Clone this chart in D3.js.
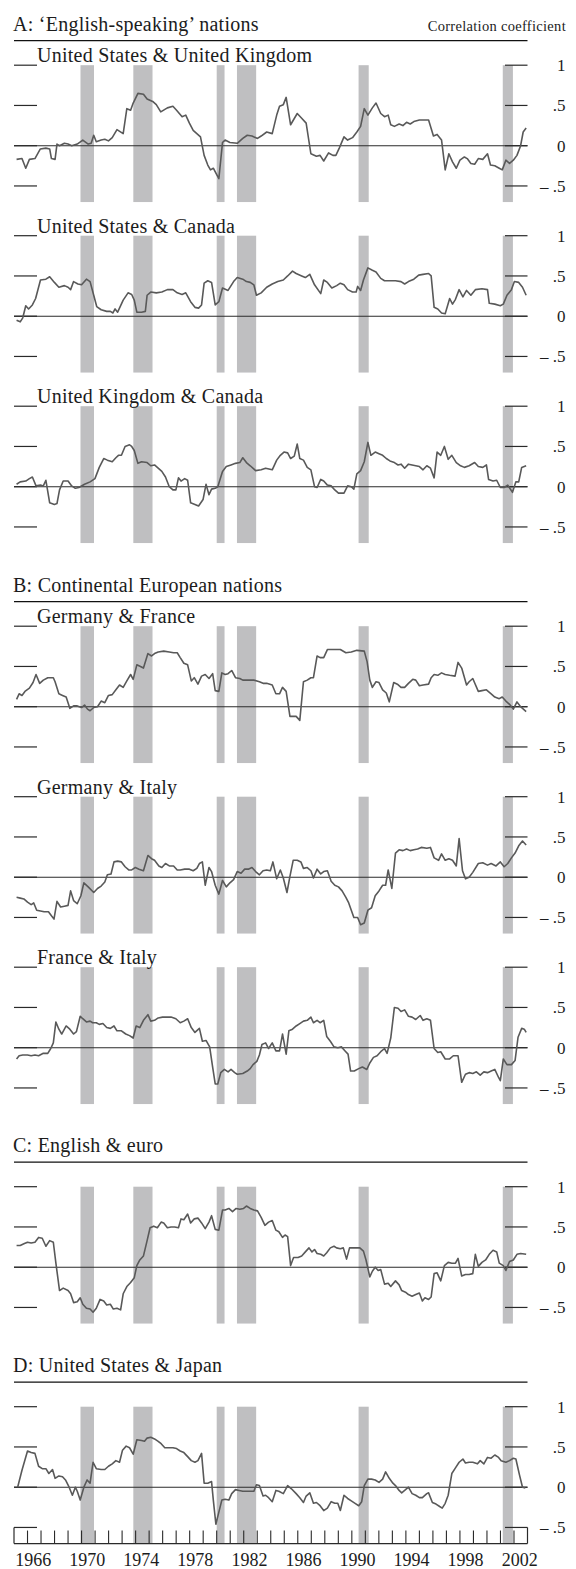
<!DOCTYPE html>
<html><head><meta charset="utf-8">
<script src="https://cdn.jsdelivr.net/npm/d3@7"></script>
<style>
body{margin:0;background:#fff}
svg{display:block}
text{font-family:"Liberation Serif","Times New Roman",serif;fill:#1c1c1c}
</style>
</head><body>
<svg id="chart" width="576" height="1569"></svg>
<script>
// ---------- DATA ----------
const recessions = [[1969.92,1970.92],[1973.83,1975.25],[1980.0,1980.58],[1981.5,1982.92],[1990.5,1991.25],[2001.17,2001.92]];
const yTickValues = [1, 0.5, 0, -0.5];
const yTickLabels = ["1", ".5", "0", "\u2013 .5"];
const yearTicks = [1966,1967,1968,1969,1970,1971,1972,1973,1974,1975,1976,1977,1978,1979,1980,1981,1982,1983,1984,1985,1986,1987,1988,1989,1990,1991,1992,1993,1994,1995,1996,1997,1998,1999,2000,2001,2002];
const yearLabels = [1966,1970,1974,1978,1982,1986,1990,1994,1998,2002];
const groupTitles = ["A: \u2018English-speaking\u2019 nations","B: Continental European nations","C: English & euro","D: United States & Japan"];
const seriesNames = ["United States & United Kingdom","United States & Canada","United Kingdom & Canada","Germany & France","Germany & Italy","France & Italy","",""];
const unitLabel = "Correlation coefficient";

const usUk = [[1965.19,-0.17],[1965.59,-0.16],[1965.87,-0.28],[1966.14,-0.17],[1966.55,-0.16],[1966.95,-0.04],[1967.36,-0.03],[1967.64,-0.04],[1967.77,-0.16],[1968.04,-0.17],[1968.18,0.02],[1968.37,0],[1968.73,0.03],[1969.0,0.02],[1969.27,0],[1969.68,0.02],[1970.09,0.07],[1970.49,0.02],[1970.71,0.03],[1970.9,0.13],[1971.09,0.05],[1971.45,0.07],[1971.72,0.08],[1971.99,0.06],[1972.27,0.1],[1972.62,0.2],[1973.08,0.15],[1973.35,0.46],[1973.63,0.44],[1973.82,0.53],[1974.17,0.65],[1974.58,0.64],[1974.85,0.58],[1975.26,0.55],[1975.53,0.51],[1975.86,0.42],[1976.35,0.47],[1976.76,0.49],[1977.03,0.44],[1977.44,0.36],[1977.71,0.38],[1977.98,0.28],[1978.26,0.19],[1978.8,0.11],[1979.07,-0.12],[1979.34,-0.24],[1979.54,-0.3],[1979.75,-0.28],[1980.03,-0.37],[1980.16,-0.41],[1980.43,0.04],[1980.62,0.07],[1980.98,0.04],[1981.52,0.03],[1981.93,0.09],[1982.26,0.13],[1982.61,0.12],[1983.02,0.09],[1983.29,0.12],[1983.7,0.17],[1984.11,0.15],[1984.44,0.38],[1984.65,0.49],[1984.93,0.51],[1985.14,0.6],[1985.47,0.26],[1985.96,0.4],[1986.29,0.34],[1986.62,0.28],[1986.97,-0.1],[1987.38,-0.13],[1987.65,-0.12],[1987.92,-0.19],[1988.28,-0.09],[1988.6,-0.12],[1988.82,-0.12],[1989.07,-0.03],[1989.42,0.11],[1989.69,0.07],[1990.05,0.1],[1990.37,0.17],[1990.65,0.24],[1990.92,0.46],[1991.19,0.38],[1991.52,0.47],[1991.79,0.53],[1992.14,0.4],[1992.42,0.36],[1992.69,0.38],[1992.88,0.26],[1993.15,0.24],[1993.5,0.27],[1993.78,0.25],[1994.05,0.29],[1994.32,0.27],[1994.59,0.3],[1995.0,0.32],[1995.68,0.32],[1996.04,0.12],[1996.31,0.14],[1996.64,0.07],[1996.91,-0.3],[1997.18,-0.1],[1997.45,-0.2],[1997.73,-0.28],[1998.0,-0.18],[1998.33,-0.14],[1998.54,-0.16],[1998.81,-0.22],[1999.09,-0.23],[1999.36,-0.16],[1999.69,-0.17],[2000.04,-0.1],[2000.26,-0.24],[2000.58,-0.25],[2000.91,-0.28],[2001.13,-0.3],[2001.4,-0.18],[2001.67,-0.22],[2001.95,-0.18],[2002.22,-0.12],[2002.49,0],[2002.68,0.17],[2002.9,0.22]];

const usCanada = [[1965.19,-0.05],[1965.46,-0.07],[1965.65,-0.02],[1965.87,0.13],[1966.08,0.09],[1966.36,0.14],[1966.6,0.22],[1966.96,0.45],[1967.36,0.46],[1967.64,0.49],[1967.99,0.42],[1968.32,0.36],[1968.73,0.38],[1969.0,0.36],[1969.19,0.33],[1969.41,0.43],[1969.73,0.4],[1970.0,0.39],[1970.36,0.46],[1970.63,0.43],[1970.9,0.26],[1971.12,0.12],[1971.45,0.08],[1971.86,0.06],[1972.13,0.06],[1972.32,0.04],[1972.48,0.09],[1972.67,0.05],[1973.08,0.2],[1973.44,0.29],[1973.71,0.27],[1973.9,0.2],[1974.09,0.05],[1974.44,0.05],[1974.72,0.06],[1974.85,0.26],[1975.12,0.3],[1975.53,0.29],[1975.94,0.3],[1976.35,0.33],[1976.76,0.33],[1977.08,0.29],[1977.44,0.27],[1977.71,0.29],[1978.07,0.18],[1978.39,0.11],[1978.66,0.1],[1978.88,0.14],[1979.07,0.41],[1979.34,0.44],[1979.62,0.42],[1979.89,0.14],[1980.16,0.18],[1980.43,0.35],[1980.84,0.32],[1981.25,0.43],[1981.52,0.48],[1981.93,0.46],[1982.2,0.43],[1982.48,0.42],[1982.75,0.39],[1982.94,0.26],[1983.29,0.29],[1983.7,0.36],[1984.11,0.4],[1984.52,0.43],[1984.93,0.45],[1985.25,0.5],[1985.61,0.56],[1985.88,0.53],[1986.29,0.5],[1986.56,0.48],[1986.89,0.52],[1987.24,0.39],[1987.7,0.28],[1987.92,0.45],[1988.19,0.42],[1988.52,0.35],[1988.88,0.38],[1989.15,0.41],[1989.42,0.39],[1989.69,0.33],[1990.05,0.3],[1990.32,0.3],[1990.43,0.37],[1990.65,0.32],[1990.86,0.45],[1991.19,0.6],[1991.52,0.57],[1991.79,0.55],[1992.14,0.47],[1992.42,0.44],[1992.82,0.44],[1993.23,0.44],[1993.64,0.43],[1993.91,0.4],[1994.19,0.43],[1994.59,0.46],[1994.95,0.51],[1995.27,0.52],[1995.68,0.53],[1995.87,0.5],[1996.09,0.11],[1996.36,0.09],[1996.64,0.04],[1996.91,0.03],[1997.24,0.22],[1997.45,0.15],[1997.67,0.21],[1997.94,0.33],[1998.22,0.24],[1998.49,0.32],[1998.81,0.26],[1999.14,0.33],[1999.63,0.34],[2000.04,0.33],[2000.17,0.16],[2000.58,0.15],[2000.99,0.13],[2001.21,0.15],[2001.48,0.26],[2001.81,0.33],[2002.03,0.43],[2002.35,0.42],[2002.63,0.36],[2002.9,0.26]];

const ukCanada = [[1965.19,0.03],[1965.46,0.06],[1965.87,0.07],[1966.14,0.1],[1966.36,0.12],[1966.63,0.01],[1966.96,0.02],[1967.17,0.01],[1967.36,0.08],[1967.64,-0.2],[1967.99,-0.22],[1968.18,-0.21],[1968.37,-0.04],[1968.64,0.07],[1969.0,0.07],[1969.27,0.01],[1969.54,-0.02],[1969.81,-0.01],[1970.22,0.03],[1970.63,0.06],[1970.99,0.1],[1971.31,0.24],[1971.64,0.35],[1971.91,0.33],[1972.27,0.31],[1972.54,0.36],[1972.73,0.39],[1972.95,0.39],[1973.22,0.5],[1973.55,0.52],[1973.71,0.5],[1973.9,0.45],[1974.17,0.29],[1974.44,0.31],[1974.85,0.3],[1975.12,0.26],[1975.4,0.27],[1975.67,0.23],[1975.94,0.19],[1976.21,0.12],[1976.49,0],[1976.76,-0.04],[1976.98,-0.04],[1977.17,0.11],[1977.36,0.07],[1977.63,0.1],[1977.85,0.08],[1978.07,-0.2],[1978.39,-0.22],[1978.66,-0.24],[1978.99,-0.16],[1979.21,0.03],[1979.43,-0.1],[1979.62,-0.03],[1979.89,-0.02],[1980.08,0],[1980.43,0.19],[1980.71,0.25],[1981.06,0.27],[1981.39,0.29],[1981.71,0.3],[1981.93,0.36],[1982.2,0.3],[1982.48,0.26],[1982.88,0.2],[1983.29,0.21],[1983.62,0.23],[1984.11,0.21],[1984.44,0.33],[1984.71,0.39],[1984.98,0.43],[1985.25,0.42],[1985.47,0.35],[1985.74,0.38],[1985.96,0.53],[1986.15,0.35],[1986.42,0.33],[1986.7,0.24],[1986.97,0.21],[1987.24,0],[1987.43,-0.01],[1987.7,0.09],[1987.92,0.07],[1988.19,0.02],[1988.47,0.01],[1988.74,-0.04],[1989.01,-0.08],[1989.42,-0.08],[1989.69,0.01],[1989.96,0],[1990.15,-0.03],[1990.37,0.16],[1990.65,0.2],[1990.92,0.31],[1991.19,0.55],[1991.41,0.39],[1991.73,0.43],[1992.01,0.41],[1992.28,0.39],[1992.55,0.35],[1992.82,0.32],[1993.15,0.3],[1993.42,0.27],[1993.64,0.28],[1993.91,0.23],[1994.19,0.28],[1994.46,0.27],[1994.73,0.26],[1995.0,0.25],[1995.27,0.21],[1995.55,0.26],[1995.82,0.23],[1996.09,0.11],[1996.31,0.43],[1996.58,0.39],[1996.85,0.5],[1997.13,0.34],[1997.4,0.39],[1997.73,0.3],[1998.05,0.26],[1998.33,0.24],[1998.68,0.26],[1999.09,0.3],[1999.36,0.25],[1999.69,0.24],[1999.96,0.27],[2000.12,0.09],[2000.45,0.07],[2000.72,0.08],[2000.99,-0.01],[2001.27,-0.01],[2001.54,0.02],[2001.89,-0.07],[2002.14,0.06],[2002.35,0.06],[2002.57,0.24],[2002.9,0.26]];

const germanyFrance = [[1965.19,0.09],[1965.38,0.16],[1965.59,0.14],[1965.81,0.19],[1966.14,0.23],[1966.41,0.3],[1966.63,0.4],[1966.9,0.29],[1967.17,0.33],[1967.5,0.36],[1967.91,0.36],[1968.04,0.31],[1968.32,0.16],[1968.59,0.14],[1968.86,0.12],[1969.13,-0.02],[1969.41,0.01],[1969.68,0.01],[1970.0,-0.01],[1970.22,0.02],[1970.44,-0.03],[1970.63,-0.05],[1970.9,-0.01],[1971.18,0],[1971.45,0.07],[1971.72,0.05],[1971.99,0.14],[1972.27,0.15],[1972.54,0.21],[1972.81,0.27],[1973.08,0.24],[1973.35,0.32],[1973.63,0.4],[1973.82,0.34],[1974.09,0.52],[1974.36,0.5],[1974.58,0.48],[1974.91,0.66],[1975.18,0.63],[1975.4,0.66],[1975.67,0.68],[1976.08,0.69],[1976.49,0.68],[1976.81,0.67],[1977.08,0.67],[1977.3,0.61],[1977.57,0.54],[1977.85,0.52],[1978.12,0.32],[1978.34,0.36],[1978.61,0.28],[1978.88,0.38],[1979.15,0.4],[1979.43,0.35],[1979.7,0.41],[1979.89,0.2],[1980.16,0.19],[1980.38,0.42],[1980.62,0.4],[1980.84,0.41],[1981.11,0.45],[1981.39,0.36],[1981.71,0.35],[1981.93,0.33],[1982.26,0.33],[1982.75,0.33],[1983.16,0.31],[1983.43,0.29],[1983.7,0.29],[1984.11,0.27],[1984.38,0.16],[1984.65,0.16],[1984.87,0.24],[1985.14,0.19],[1985.42,-0.12],[1985.69,-0.12],[1985.88,-0.12],[1986.15,-0.17],[1986.42,0.31],[1986.7,0.33],[1986.97,0.36],[1987.16,0.36],[1987.43,0.63],[1987.65,0.61],[1987.92,0.61],[1988.19,0.71],[1988.47,0.71],[1988.74,0.71],[1989.15,0.71],[1989.56,0.67],[1989.96,0.68],[1990.37,0.7],[1990.92,0.69],[1991.13,0.56],[1991.33,0.33],[1991.52,0.24],[1991.79,0.31],[1992.01,0.3],[1992.28,0.21],[1992.55,0.17],[1992.77,0.06],[1993.1,0.3],[1993.37,0.28],[1993.64,0.24],[1993.91,0.24],[1994.19,0.29],[1994.51,0.34],[1994.73,0.33],[1995.0,0.26],[1995.27,0.27],[1995.68,0.28],[1995.87,0.36],[1996.09,0.4],[1996.36,0.39],[1996.64,0.42],[1996.91,0.4],[1997.24,0.39],[1997.64,0.38],[1997.86,0.55],[1998.13,0.48],[1998.49,0.27],[1998.68,0.31],[1998.95,0.35],[1999.36,0.19],[1999.63,0.2],[1999.96,0.21],[2000.31,0.16],[2000.58,0.12],[2000.91,0.1],[2001.13,0.12],[2001.4,0.07],[2001.67,0.03],[2001.95,-0.03],[2002.22,0.06],[2002.49,0],[2002.9,-0.06]];

const germanyItaly = [[1965.19,-0.25],[1965.46,-0.26],[1965.73,-0.27],[1966.0,-0.31],[1966.27,-0.34],[1966.46,-0.32],[1966.68,-0.41],[1966.96,-0.42],[1967.23,-0.43],[1967.55,-0.43],[1967.77,-0.48],[1967.96,-0.52],[1968.18,-0.3],[1968.45,-0.37],[1968.73,-0.36],[1969.0,-0.35],[1969.19,-0.17],[1969.41,-0.29],[1969.68,-0.33],[1969.95,-0.23],[1970.17,-0.07],[1970.49,-0.12],[1970.9,-0.19],[1971.18,-0.14],[1971.45,-0.11],[1971.72,-0.06],[1971.91,0.03],[1972.18,0.04],[1972.4,0.19],[1972.67,0.2],[1972.95,0.19],[1973.22,0.13],[1973.49,0.09],[1973.71,0.09],[1973.98,0.12],[1974.25,0.1],[1974.58,0.08],[1974.91,0.27],[1975.18,0.23],[1975.4,0.21],[1975.72,0.14],[1975.94,0.12],[1976.21,0.17],[1976.49,0.14],[1976.81,0.14],[1977.08,0.09],[1977.3,0.09],[1977.63,0.1],[1977.98,0.1],[1978.26,0.08],[1978.53,0.11],[1978.72,0.17],[1978.94,0.19],[1979.15,-0.1],[1979.43,0.12],[1979.62,0.07],[1979.89,-0.1],[1980.16,-0.21],[1980.43,-0.04],[1980.71,-0.12],[1980.98,-0.07],[1981.25,-0.03],[1981.52,0.07],[1981.8,0.05],[1982.07,0.1],[1982.34,0.1],[1982.61,0.12],[1982.88,0.07],[1983.16,0.03],[1983.43,0.08],[1983.7,0.09],[1983.97,0.08],[1984.16,0.19],[1984.44,-0.02],[1984.71,0.09],[1984.93,-0.01],[1985.2,-0.19],[1985.42,0.01],[1985.66,0.21],[1985.96,0.21],[1986.23,0.19],[1986.42,0.11],[1986.7,0.12],[1986.97,0.08],[1987.16,-0.01],[1987.43,0.1],[1987.7,0.04],[1987.92,0.07],[1988.19,0.08],[1988.47,-0.05],[1988.74,-0.1],[1989.01,-0.12],[1989.28,-0.17],[1989.56,-0.25],[1989.77,-0.32],[1989.96,-0.41],[1990.15,-0.5],[1990.43,-0.5],[1990.65,-0.59],[1990.92,-0.57],[1991.19,-0.41],[1991.46,-0.38],[1991.73,-0.23],[1992.01,-0.17],[1992.28,-0.1],[1992.5,-0.1],[1992.69,0.09],[1992.96,-0.14],[1993.23,0.3],[1993.5,0.34],[1993.78,0.33],[1994.05,0.35],[1994.32,0.33],[1994.59,0.34],[1994.87,0.35],[1995.14,0.37],[1995.55,0.36],[1995.82,0.37],[1996.09,0.24],[1996.42,0.21],[1996.64,0.29],[1996.91,0.21],[1997.18,0.23],[1997.45,0.21],[1997.73,0.14],[1997.94,0.48],[1998.19,0.08],[1998.41,-0.02],[1998.68,0],[1998.95,0.06],[1999.36,0.17],[1999.69,0.18],[2000.04,0.15],[2000.31,0.17],[2000.67,0.14],[2000.99,0.19],[2001.27,0.13],[2001.54,0.17],[2001.81,0.24],[2002.08,0.3],[2002.35,0.39],[2002.63,0.45],[2002.9,0.4]];

const franceItaly = [[1965.19,-0.14],[1965.38,-0.1],[1965.65,-0.09],[1966.0,-0.09],[1966.27,-0.1],[1966.55,-0.09],[1966.82,-0.1],[1967.17,-0.07],[1967.5,-0.07],[1967.72,-0.01],[1967.91,0.06],[1968.1,0.32],[1968.32,0.23],[1968.53,0.17],[1968.86,0.27],[1969.13,0.23],[1969.41,0.17],[1969.62,0.2],[1969.9,0.39],[1970.09,0.36],[1970.36,0.32],[1970.63,0.33],[1970.82,0.31],[1971.09,0.31],[1971.31,0.29],[1971.58,0.3],[1971.86,0.25],[1972.13,0.24],[1972.4,0.27],[1972.62,0.21],[1972.95,0.21],[1973.27,0.17],[1973.55,0.15],[1973.82,0.12],[1974.04,0.27],[1974.31,0.25],[1974.58,0.34],[1974.91,0.41],[1975.12,0.33],[1975.4,0.34],[1975.67,0.37],[1975.99,0.38],[1976.35,0.38],[1976.62,0.38],[1976.98,0.36],[1977.3,0.31],[1977.57,0.33],[1977.85,0.36],[1978.12,0.25],[1978.39,0.19],[1978.72,0.24],[1978.94,0.08],[1979.21,0.09],[1979.48,0.01],[1979.7,-0.24],[1979.89,-0.45],[1980.08,-0.45],[1980.3,-0.31],[1980.57,-0.27],[1980.84,-0.3],[1981.06,-0.27],[1981.33,-0.31],[1981.52,-0.33],[1981.93,-0.32],[1982.26,-0.29],[1982.48,-0.26],[1982.69,-0.21],[1982.97,-0.17],[1983.16,-0.09],[1983.35,0.04],[1983.62,0.06],[1983.84,-0.01],[1984.11,0.06],[1984.38,-0.04],[1984.65,-0.04],[1984.87,0.17],[1985.14,-0.08],[1985.34,0.21],[1985.61,0.23],[1985.88,0.27],[1986.15,0.3],[1986.42,0.33],[1986.7,0.34],[1986.97,0.38],[1987.16,0.31],[1987.43,0.34],[1987.65,0.31],[1987.92,0.34],[1988.14,0.14],[1988.41,0.08],[1988.68,0.01],[1988.96,0],[1989.23,0.01],[1989.5,-0.04],[1989.72,-0.08],[1989.91,-0.29],[1990.18,-0.29],[1990.51,-0.26],[1990.78,-0.24],[1991.11,-0.27],[1991.33,-0.19],[1991.6,-0.12],[1991.87,-0.1],[1992.14,-0.05],[1992.42,-0.01],[1992.61,-0.07],[1992.88,0.12],[1993.15,0.5],[1993.42,0.49],[1993.64,0.45],[1993.91,0.47],[1994.19,0.39],[1994.46,0.38],[1994.73,0.35],[1995.06,0.4],[1995.27,0.34],[1995.55,0.36],[1995.82,0.34],[1996.09,-0.01],[1996.36,-0.06],[1996.58,-0.05],[1996.91,-0.14],[1997.24,-0.14],[1997.51,-0.1],[1997.86,-0.1],[1998.13,-0.43],[1998.41,-0.33],[1998.68,-0.31],[1998.95,-0.32],[1999.22,-0.3],[1999.5,-0.34],[1999.77,-0.3],[2000.04,-0.31],[2000.31,-0.29],[2000.58,-0.27],[2000.86,-0.37],[2000.99,-0.41],[2001.21,-0.14],[2001.48,-0.21],[2001.81,-0.21],[2002.08,-0.16],[2002.3,0.13],[2002.57,0.24],[2002.76,0.23],[2002.9,0.19]];

const englishEuro = [[1965.19,0.27],[1965.46,0.27],[1965.73,0.29],[1966.0,0.31],[1966.27,0.3],[1966.55,0.31],[1966.82,0.37],[1967.09,0.36],[1967.36,0.26],[1967.64,0.33],[1967.91,0.31],[1968.1,0.05],[1968.37,-0.29],[1968.64,-0.26],[1969.0,-0.29],[1969.19,-0.33],[1969.41,-0.44],[1969.68,-0.43],[1969.9,-0.38],[1970.09,-0.46],[1970.36,-0.51],[1970.63,-0.52],[1970.85,-0.56],[1971.09,-0.51],[1971.37,-0.4],[1971.64,-0.42],[1971.86,-0.47],[1972.13,-0.46],[1972.35,-0.52],[1972.62,-0.51],[1972.89,-0.53],[1973.08,-0.33],[1973.35,-0.24],[1973.63,-0.19],[1973.9,-0.13],[1974.09,0.02],[1974.31,0.09],[1974.58,0.14],[1974.85,0.33],[1975.07,0.49],[1975.34,0.51],[1975.61,0.49],[1975.89,0.56],[1976.08,0.55],[1976.35,0.49],[1976.62,0.5],[1976.89,0.5],[1977.17,0.49],[1977.36,0.6],[1977.57,0.59],[1977.85,0.66],[1978.07,0.55],[1978.34,0.6],[1978.61,0.61],[1978.88,0.55],[1979.15,0.48],[1979.43,0.56],[1979.62,0.64],[1979.89,0.47],[1980.16,0.46],[1980.43,0.71],[1980.62,0.71],[1980.9,0.73],[1981.17,0.69],[1981.44,0.73],[1981.71,0.72],[1981.99,0.73],[1982.2,0.76],[1982.48,0.73],[1982.75,0.71],[1983.02,0.7],[1983.29,0.62],[1983.57,0.52],[1983.84,0.56],[1984.11,0.58],[1984.38,0.46],[1984.6,0.44],[1984.87,0.37],[1985.06,0.4],[1985.25,0.38],[1985.47,0.02],[1985.69,0.12],[1986.02,0.12],[1986.29,0.14],[1986.56,0.19],[1986.83,0.24],[1987.05,0.19],[1987.24,0.22],[1987.43,0.17],[1987.7,0.16],[1987.92,0.14],[1988.14,0.18],[1988.41,0.24],[1988.68,0.26],[1988.87,0.24],[1989.15,0.23],[1989.37,0.24],[1989.61,0.1],[1989.83,0.24],[1990.05,0.24],[1990.32,0.24],[1990.59,0.24],[1990.86,0.2],[1991.05,0.09],[1991.33,-0.12],[1991.52,-0.05],[1991.73,0],[1991.95,-0.04],[1992.14,-0.03],[1992.42,-0.21],[1992.69,-0.2],[1992.88,-0.24],[1993.23,-0.17],[1993.5,-0.22],[1993.69,-0.29],[1993.97,-0.31],[1994.19,-0.34],[1994.46,-0.36],[1994.73,-0.34],[1995.0,-0.32],[1995.22,-0.42],[1995.41,-0.38],[1995.68,-0.4],[1995.87,-0.37],[1996.09,-0.08],[1996.31,-0.07],[1996.58,-0.17],[1996.85,0.02],[1997.13,0.06],[1997.4,0.05],[1997.67,0.05],[1997.86,0.11],[1998.13,-0.11],[1998.41,-0.09],[1998.68,-0.09],[1998.95,-0.08],[1999.14,0.16],[1999.36,0.01],[1999.63,0.06],[1999.9,0.09],[2000.17,0.16],[2000.45,0.21],[2000.72,0.19],[2000.91,0.05],[2001.21,0.02],[2001.4,-0.04],[2001.67,0.07],[2001.95,0.09],[2002.22,0.16],[2002.49,0.17],[2002.9,0.16]];

const usJapan = [[1965.27,0],[1965.59,0.21],[1966.0,0.45],[1966.27,0.43],[1966.55,0.42],[1966.82,0.26],[1967.09,0.23],[1967.36,0.23],[1967.58,0.17],[1967.85,0.22],[1968.04,0.11],[1968.32,0.14],[1968.59,0.13],[1968.81,0.09],[1969.08,0],[1969.32,-0.1],[1969.54,0],[1969.68,-0.05],[1969.9,-0.16],[1970.17,0],[1970.41,0.09],[1970.63,0.05],[1970.85,0.31],[1971.09,0.23],[1971.45,0.22],[1971.72,0.22],[1971.99,0.26],[1972.27,0.29],[1972.54,0.33],[1972.81,0.31],[1973.03,0.46],[1973.3,0.51],[1973.55,0.49],[1973.82,0.41],[1974.09,0.59],[1974.44,0.58],[1974.66,0.57],[1974.85,0.61],[1975.12,0.62],[1975.4,0.6],[1975.67,0.57],[1975.89,0.54],[1976.16,0.49],[1976.49,0.49],[1976.76,0.49],[1977.03,0.48],[1977.3,0.45],[1977.57,0.43],[1977.85,0.38],[1978.12,0.33],[1978.39,0.31],[1978.61,0.33],[1978.88,0.42],[1979.07,0.05],[1979.34,0.05],[1979.62,0.07],[1979.75,-0.16],[1979.94,-0.46],[1980.16,-0.31],[1980.38,-0.16],[1980.62,-0.15],[1980.9,-0.16],[1981.11,-0.08],[1981.39,-0.03],[1981.66,-0.04],[1981.93,-0.05],[1982.48,-0.05],[1982.75,-0.05],[1982.94,0.03],[1983.16,0.02],[1983.43,-0.11],[1983.62,-0.1],[1983.84,-0.13],[1984.11,-0.18],[1984.38,-0.04],[1984.6,-0.05],[1984.93,-0.08],[1985.25,0.02],[1985.53,-0.02],[1985.88,-0.08],[1986.15,-0.13],[1986.42,-0.19],[1986.62,-0.11],[1986.89,-0.07],[1987.16,-0.2],[1987.38,-0.19],[1987.65,-0.23],[1987.92,-0.29],[1988.19,-0.26],[1988.47,-0.18],[1988.74,-0.2],[1988.96,-0.2],[1989.15,-0.29],[1989.42,-0.1],[1989.69,-0.14],[1989.96,-0.17],[1990.24,-0.2],[1990.51,-0.23],[1990.73,-0.18],[1990.92,0.02],[1991.19,0.1],[1991.46,0.1],[1991.73,0.09],[1992.01,0.06],[1992.28,0.1],[1992.5,0.19],[1992.77,0.11],[1993.04,0.05],[1993.23,0.02],[1993.5,-0.04],[1993.69,-0.07],[1993.91,-0.04],[1994.19,0],[1994.46,-0.08],[1994.73,-0.1],[1995.0,-0.13],[1995.22,-0.13],[1995.55,-0.08],[1995.68,-0.07],[1995.96,-0.19],[1996.23,-0.21],[1996.5,-0.24],[1996.69,-0.26],[1996.91,-0.2],[1997.13,-0.1],[1997.4,0.17],[1997.67,0.24],[1997.94,0.31],[1998.22,0.35],[1998.41,0.3],[1998.68,0.31],[1998.95,0.31],[1999.3,0.29],[1999.5,0.33],[1999.77,0.29],[2000.04,0.37],[2000.31,0.36],[2000.58,0.4],[2000.86,0.37],[2001.05,0.33],[2001.4,0.31],[2001.67,0.33],[2001.95,0.36],[2002.14,0.35],[2002.41,0.15],[2002.63,0],[2002.84,-0.01]];

const allSeries = [usUk, usCanada, ukCanada, germanyFrance, germanyItaly, franceItaly, englishEuro, usJapan];

// ---------- LAYOUT ----------
const svg = d3.select("#chart");
const X0 = 14, X1 = 527.5;
const x = d3.scaleLinear().domain([1965, 2003]).range([X0, X1]);
const UNIT = 80.5;           // pixels per 1.0 of correlation
const zeroYs = [145.7, 316.2, 486.7, 706.7, 877.2, 1047.7, 1267.2, 1487.2];
const groupOf = [0,0,0,1,1,1,2,3];
const firstInGroup = [true,false,false,true,false,false,true,true];
const FONT = "Liberation Serif, Times New Roman, serif";
const lineColor = "#595959", barColor = "#bfbfc1", tickColor = "#2a2a2a";

allSeries.forEach((data, i) => {
  const z = zeroYs[i];
  const y = d3.scaleLinear().domain([-0.7, 1]).range([z + 0.7 * UNIT, z - UNIT]);
  const g = svg.append("g");

  if (firstInGroup[i]) {
    const ruleY = y(1) - 24.5;
    g.append("line").attr("x1", X0).attr("x2", X1).attr("y1", ruleY).attr("y2", ruleY)
      .attr("stroke", "#111").attr("stroke-width", 1.3);
    g.append("text").attr("x", X0 - 1).attr("y", ruleY - 10)
      .attr("font-size", 20).attr("letter-spacing", 0.25).text(groupTitles[groupOf[i]]);
    if (i === 0) {
      g.append("text").attr("x", 566).attr("y", ruleY - 10).attr("text-anchor", "end")
        .attr("font-size", 14.5).attr("letter-spacing", 0.3).text(unitLabel);
    }
  }

  // recession bars
  g.selectAll("rect.rec").data(recessions).join("rect").attr("class", "rec")
    .attr("x", d => x(d[0])).attr("width", d => x(d[1]) - x(d[0]))
    .attr("y", y(1)).attr("height", y(-0.7) - y(1))
    .attr("fill", barColor);

  // zero line
  g.append("line").attr("x1", X0).attr("x2", X1).attr("y1", y(0)).attr("y2", y(0))
    .attr("stroke", "#2b2b2b").attr("stroke-width", 1.1);

  // ticks both sides
  yTickValues.forEach(v => {
    g.append("line").attr("x1", X0).attr("x2", X0 + 23).attr("y1", y(v)).attr("y2", y(v))
      .attr("stroke", tickColor).attr("stroke-width", 1.2);
    g.append("line").attr("x1", X1 - 22.5).attr("x2", X1).attr("y1", y(v)).attr("y2", y(v))
      .attr("stroke", tickColor).attr("stroke-width", 1.2);
  });
  // right labels
  g.selectAll("text.yl").data(yTickValues).join("text").attr("class", "yl")
    .attr("x", 565.5).attr("y", d => y(d)).attr("dy", "0.35em").attr("text-anchor", "end")
    .attr("font-size", 17).text((d, k) => yTickLabels[k]);

  // series label
  if (seriesNames[i]) {
    g.append("text").attr("x", 37).attr("y", y(1) - 3)
      .attr("font-size", 20).attr("letter-spacing", 0.25).text(seriesNames[i]);
  }

  // line
  const line = d3.line().x(d => x(d[0])).y(d => y(d[1]));
  g.append("path").datum(data).attr("d", line).attr("fill", "none")
    .attr("stroke", lineColor).attr("stroke-width", 1.6).attr("stroke-linejoin", "round");

  // bottom axis on last panel
  if (i === allSeries.length - 1) {
    const axisY = y(-0.7);
    g.append("line").attr("x1", X0).attr("x2", X1).attr("y1", axisY).attr("y2", axisY)
      .attr("stroke", tickColor).attr("stroke-width", 1.2);
    [1965, 2003].forEach(t => {
      g.append("line").attr("x1", x(t)).attr("x2", x(t)).attr("y1", y(-0.5)).attr("y2", axisY)
        .attr("stroke", tickColor).attr("stroke-width", 1.2);
    });
    g.selectAll("line.yt").data(yearTicks).join("line").attr("class", "yt")
      .attr("x1", d => x(d)).attr("x2", d => x(d)).attr("y1", axisY - 13).attr("y2", axisY)
      .attr("stroke", tickColor).attr("stroke-width", 1.1);
    g.selectAll("text.xl").data(yearLabels).join("text").attr("class", "xl")
      .attr("x", d => x(d + 0.42)).attr("y", axisY + 22).attr("text-anchor", "middle")
      .attr("font-size", 18).text(d => d);
  }
});
</script>
</body></html>
